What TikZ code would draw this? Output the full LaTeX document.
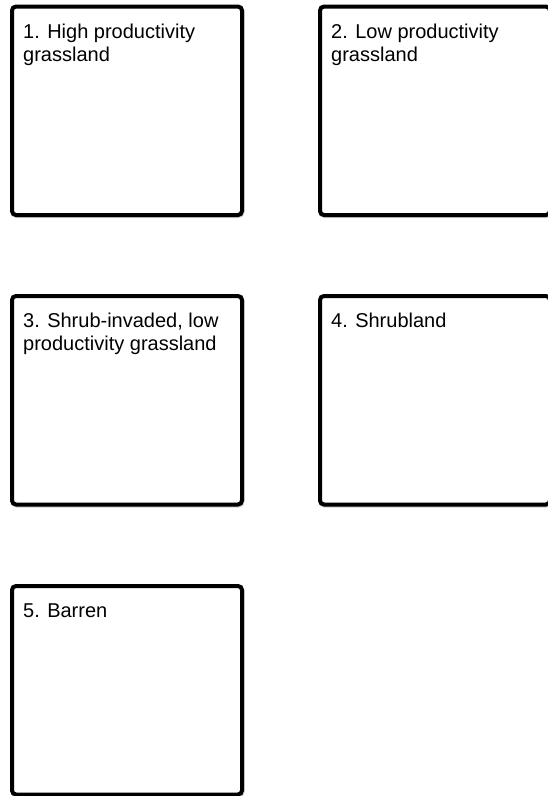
\documentclass[tikz,border=0pt]{standalone}
\usepackage{fontspec}
\setmainfont{Liberation Sans}
\begin{document}
\begin{tikzpicture}[x=1pt,y=-1pt,
  statebox/.style={draw=black, line width=4pt, rounded corners=4pt, fill=white,
    minimum width=230pt, minimum height=208.5pt, inner sep=0pt, outer sep=0pt,
    anchor=north west,
    preaction={draw=black!20, line width=4pt, transform canvas={shift={(0.5pt,-1pt)}}}},
  statetext/.style={anchor=base west, align=left, inner sep=0pt,
    font=\fontsize{20}{23}\selectfont}]
\useasboundingbox (0,0) rectangle (547,796);
\node[statebox] (b1) at (12,6.5) {};
\node[statebox] (b2) at (320,6.5) {};
\node[statebox] (b3) at (12,296) {};
\node[statebox] (b4) at (320,296) {};
\node[statebox] (b5) at (12,586) {};
\node[statetext] (t1) at ([shift={(11pt,-55pt)}]b1.north west) {1. High productivity\\grassland};
\node[statetext] (t2) at ([shift={(11pt,-55pt)}]b2.north west) {2. Low productivity\\grassland};
\node[statetext] (t3) at ([shift={(11pt,-54pt)}]b3.north west) {3. Shrub-invaded, low\\productivity grassland};
\node[statetext] (t4) at ([shift={(11pt,-31pt)}]b4.north west) {4. Shrubland};
\node[statetext] (t5) at ([shift={(11pt,-31pt)}]b5.north west) {5. Barren};
\end{tikzpicture}
\end{document}
